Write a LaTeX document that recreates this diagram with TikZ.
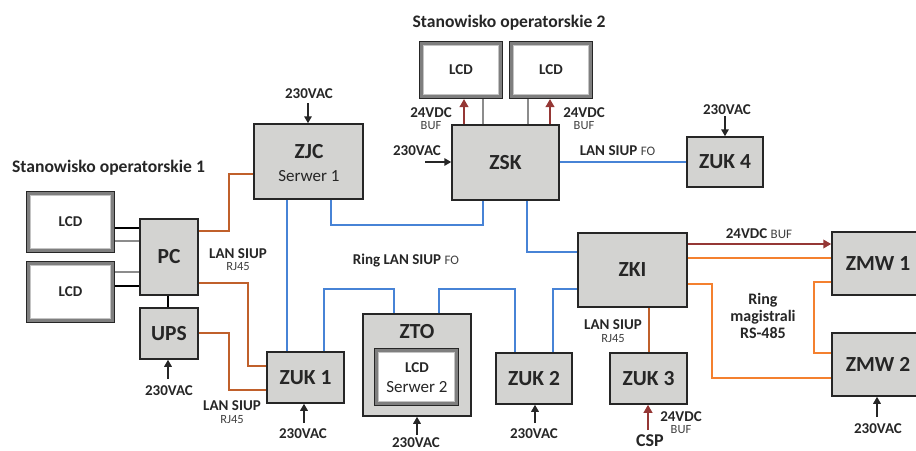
\documentclass[tikz,border=0pt]{standalone}
\usepackage{fontspec}
\setmainfont{Carlito}
\usetikzlibrary{arrows.meta,calc}
\definecolor{edge}{HTML}{262626}
\definecolor{boxfill}{HTML}{D3D3D1}
\definecolor{lcdband}{HTML}{7F7F7F}
\definecolor{lcdline}{HTML}{C4C4C4}
\definecolor{conngray}{HTML}{8C8C8C}
\definecolor{lanblue}{HTML}{4783D6}
\definecolor{lanbrown}{HTML}{C0602B}
\definecolor{rsorange}{HTML}{F4802F}
\definecolor{dcred}{HTML}{953735}
\definecolor{txt}{HTML}{262626}
\definecolor{subtxt}{HTML}{404040}
\newcommand\boxfnt{\fontsize{21.5}{24}\selectfont\bfseries}
\newcommand\lblfnt{\fontsize{15}{17}\selectfont\bfseries}
\newcommand\ttlfnt{\fontsize{17.6}{20}\selectfont\bfseries}
\newcommand\smlfnt{\fontsize{12.5}{14}\selectfont\mdseries}
\newcommand\srvfnt{\fontsize{17}{20}\selectfont\mdseries}
\begin{document}
\begin{tikzpicture}[x=1pt,y=-1pt,
  box/.style={draw=edge, fill=boxfill, line width=1.5pt, inner sep=0pt, text=txt, font=\boxfnt},
  lcd/.style={fill=white, draw=lcdline, line width=1pt, inner sep=0pt, outer sep=4.5pt,
    preaction={draw=edge, line width=9pt}, preaction={draw=lcdband, line width=7pt},
    text=txt, font=\lblfnt},
  lbl/.style={inner sep=0pt, anchor=base, text=txt, font=\lblfnt},
  sml/.style={inner sep=0pt, anchor=base, text=subtxt, font=\smlfnt},
  pwr/.style={draw=edge, line width=1.6pt, -{Triangle[length=7pt,width=7.5pt]}},
  dcarr/.style={draw=dcred, line width=2.2pt, -{Triangle[length=8pt,width=8.5pt]}},
  blk/.style={draw=black, line width=2pt},
  gry/.style={draw=conngray, line width=1.5pt},
  blu/.style={draw=lanblue, line width=1.5pt},
  brn/.style={draw=lanbrown, line width=1.5pt},
  org/.style={draw=rsorange, line width=1.5pt}]
\useasboundingbox (0,0) rectangle (916,450);

% ---- boxes ----
\node[box, minimum width=58pt, minimum height=76pt] (pc) at (169,257) {PC};
\node[box, minimum width=58pt, minimum height=51pt] (ups) at (169,333.5) {UPS};
\node[box, minimum width=109pt, minimum height=75pt] (zjc) at (308.5,161.5) {};
\node[box, minimum width=107pt, minimum height=75pt] (zsk) at (505.5,162.5) {ZSK};
\node[box, minimum width=76pt, minimum height=50pt] (zuk4) at (725,162) {ZUK 4};
\node[box, minimum width=109pt, minimum height=74pt] (zki) at (632.5,270) {ZKI};
\node[box, minimum width=92pt, minimum height=63pt] (zmw1) at (878,263.5) {ZMW 1};
\node[box, minimum width=92pt, minimum height=63pt] (zmw2) at (878,364.5) {ZMW 2};
\node[box, minimum width=77pt, minimum height=51pt] (zuk1) at (305.5,377.5) {ZUK 1};
\node[box, minimum width=108pt, minimum height=102pt] (zto) at (417,365) {};
\node[box, minimum width=76pt, minimum height=51pt] (zuk2) at (534,378.5) {ZUK 2};
\node[box, minimum width=77pt, minimum height=51pt] (zuk3) at (648.5,378.5) {ZUK 3};

\node[lbl, font=\boxfnt] (zjct) at (309,158) {ZJC};
\node[lbl, font=\srvfnt] (zjcs) at (309,181) {Serwer 1};
\node[lbl, font=\boxfnt] (ztot) at (417,338) {ZTO};

% ---- LCDs ----
\node[lcd, minimum width=80pt, minimum height=53pt] (lcd1) at (70.5,222) {LCD};
\node[lcd, minimum width=80pt, minimum height=53pt] (lcd2) at (70.5,292) {LCD};
\node[lcd, minimum width=75pt, minimum height=49pt] (lcd3) at (461,70) {LCD};
\node[lcd, minimum width=75pt, minimum height=49pt] (lcd4) at (551,70) {LCD};
\node[lcd, minimum width=76pt, minimum height=49pt] (lcd5) at (416.5,377) {};
\node[lbl] (lcd5a) at (417,372) {LCD};
\node[lbl, font=\srvfnt] (lcd5b) at (417,392) {Serwer 2};

% ---- titles ----
\node[lbl, font=\ttlfnt] (st1) at (108.5,172) {Stanowisko operatorskie 1};
\node[lbl, font=\ttlfnt] (st2) at (509,27) {Stanowisko operatorskie 2};

% ---- PC / LCD links ----
\draw[blk] (lcd1.east |- 0,228) -- (pc.west |- 0,228);
\draw[gry] (lcd1.east |- 0,241) -- (pc.west |- 0,241);
\draw[gry] (lcd2.east |- 0,272) -- (pc.west |- 0,272);
\draw[blk] (lcd2.east |- 0,286) -- (pc.west |- 0,286);
\draw[blk] (pc.south -| 168,0) -- (ups.north -| 168,0);

% ---- LAN RJ45 (brown) ----
\draw[brn] (pc.east |- 0,231) -| (229,174) -- (zjc.west |- 0,174);
\draw[brn] (pc.east |- 0,283) -| (248,366) -- (zuk1.west |- 0,366);
\draw[brn] (ups.east |- 0,333) -| (229,390) -- (zuk1.west |- 0,390);
\draw[brn] (zki.south -| 649,0) -- (zuk3.north -| 649,0);

% ---- LAN FO (blue) ----
\draw[blu] (zjc.south -| 287,0) -- (zuk1.north -| 287,0);
\draw[blu] (zjc.south -| 331,0) |- (483,225) -- (zsk.south -| 483,0);
\draw[blu] (zsk.south -| 527,0) |- (zki.west |- 0,252);
\draw[blu] (zsk.east |- 0,162) -- (zuk4.west |- 0,162);
\draw[blu] (zuk1.north -| 324,0) |- (394,289) -- (zto.north -| 394,0);
\draw[blu] (zto.north -| 439,0) |- (515,289) -- (zuk2.north -| 515,0);
\draw[blu] (zuk2.north -| 553,0) |- (zki.west |- 0,289);

% ---- RS-485 ring (orange) ----
\draw[org] (zki.east |- 0,258) -- (zmw1.west |- 0,258);
\draw[org] (zki.east |- 0,284) -| (712,378) -- (zmw2.west |- 0,378);
\draw[org] (zmw1.west |- 0,282) -| (814,353) -- (zmw2.west |- 0,353);

% ---- 24VDC (dark red) ----
\draw[dcarr] (zki.east |- 0,244) -- (zmw1.west |- 0,244);
\draw[dcarr] (zsk.north -| 464,0) -- (lcd3.south -| 464,0);
\draw[gry] (zsk.north -| 483,0) -- (lcd3.south -| 483,0);
\draw[gry] (zsk.north -| 528,0) -- (lcd4.south -| 528,0);
\draw[dcarr] (zsk.north -| 550,0) -- (lcd4.south -| 550,0);
\coordinate (cspa) at (648,430);
\draw[dcarr] (cspa) -- (zuk3.south -| 648,0);

% ---- 230VAC feeds ----
\coordinate (pzjc) at (308,103);
\coordinate (pzsk) at (425,162);
\coordinate (pzuk4) at (725,116);
\coordinate (pups) at (168,379);
\coordinate (pzuk1) at (304,423);
\coordinate (pzto) at (417,435);
\coordinate (pzuk2) at (535,423);
\coordinate (pzmw2) at (877,417);
\draw[pwr] (pzjc) -- (zjc.north -| pzjc);
\draw[pwr] (pzsk) -- (zsk.west |- pzsk);
\draw[pwr] (pzuk4) -- (zuk4.north -| pzuk4);
\draw[pwr] (pups) -- (ups.south -| pups);
\draw[pwr] (pzuk1) -- (zuk1.south -| pzuk1);
\draw[pwr] (pzto) -- (zto.south -| pzto);
\draw[pwr] (pzuk2) -- (zuk2.south -| pzuk2);
\draw[pwr] (pzmw2) -- (zmw2.south -| pzmw2);

\node[lbl] (v1) at (309,98) {230VAC};
\node[lbl] (v2) at (417,155) {230VAC};
\node[lbl] (v3) at (727,114) {230VAC};
\node[lbl] (v4) at (169,395) {230VAC};
\node[lbl] (v5) at (303,438) {230VAC};
\node[lbl] (v6) at (416,447.5) {230VAC};
\node[lbl] (v7) at (534,438) {230VAC};
\node[lbl] (v8) at (878,433) {230VAC};

% ---- other labels ----
\node[lbl] (d1) at (431,117) {24VDC};
\node[sml] (d1b) at (431,129) {BUF};
\node[lbl] (d2) at (584,117) {24VDC};
\node[sml] (d2b) at (584,129) {BUF};
\node[lbl] (d3) at (681,421.5) {24VDC};
\node[sml] (d3b) at (681,433.5) {BUF};
\node[lbl, font=\fontsize{18}{20}\selectfont\bfseries] (csp) at (650,446.5) {CSP};

\node[lbl] (l1) at (238,258) {LAN SIUP};
\node[sml] (l1b) at (238,270) {RJ45};
\node[lbl] (l2) at (232,410.5) {LAN SIUP};
\node[sml] (l2b) at (232,423) {RJ45};
\node[lbl] (l3) at (613,329) {LAN SIUP};
\node[sml] (l3b) at (613,342) {RJ45};
\node[lbl] (l4) at (617.5,155) {LAN SIUP {\fontsize{13}{15}\selectfont\mdseries\color{subtxt}FO}};
\node[lbl] (l5) at (406,264) {Ring LAN SIUP {\fontsize{13}{15}\selectfont\mdseries\color{subtxt}FO}};
\node[lbl] (l6) at (759,238) {24VDC {\fontsize{13}{15}\selectfont\mdseries\color{subtxt}BUF}};
\node[lbl, align=center, font=\fontsize{16}{17}\selectfont\bfseries] (rs) at (763,338) {Ring\\magistrali\\RS-485};
\end{tikzpicture}
\end{document}
